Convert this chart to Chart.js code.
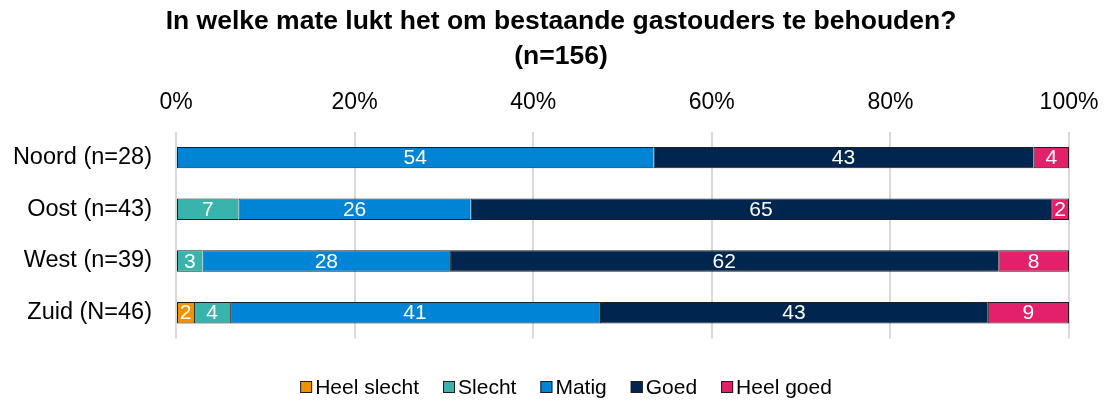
<!DOCTYPE html>
<html lang="nl">
<head>
<meta charset="utf-8">
<title>Gastouders behouden</title>
<script src="https://cdn.jsdelivr.net/npm/chart.js@4.4.1/dist/chart.umd.min.js"></script>
<style>
  html, body { margin: 0; padding: 0; background: #fff; }
  #wrap { position: relative; width: 1107px; height: 401px; }
</style>
</head>
<body>
<div id="wrap"><canvas id="chart"></canvas></div>
<script>
/* ── Data (percentages per regio, as labelled) ─────────────── */
const regions    = ['Noord (n=28)', 'Oost (n=43)', 'West (n=39)', 'Zuid (N=46)'];
const answers    = ['Heel slecht', 'Slecht', 'Matig', 'Goed', 'Heel goed'];
const heelSlecht = [0, 0, 0, 2];
const slecht     = [0, 7, 3, 4];
const matig      = [54, 26, 28, 41];
const goed       = [43, 65, 62, 43];
const heelGoed   = [4, 2, 8, 9];
const xTicks     = [0, 20, 40, 60, 80, 100];
const titleLines = ['In welke mate lukt het om bestaande gastouders te behouden?', '(n=156)'];

const series = [heelSlecht, slecht, matig, goed, heelGoed];
const colors = ['#F39200', '#38B4AC', '#0084D5', '#00264F', '#E5206A'];
const FONT   = "'Liberation Sans', Arial, Helvetica, sans-serif";

/* rounded labels don't always add up to 100, so scale each row */
const totals = regions.map((_, i) => series.reduce((s, arr) => s + arr[i], 0));

const datasets = series.map((arr, d) => ({
  label: answers[d],
  data: arr.map((v, i) => (v ? v / totals[i] * 100 : null)),
  backgroundColor: colors[d],
  borderColor: '#1e1e1e',
  borderWidth: { top: 1, bottom: 1, left: 1, right: d === series.length - 1 ? 1 : 0 },
  borderSkipped: false,
  categoryPercentage: 0.415,
  barPercentage: 1
}));

/* ── Two-line bold title, centred a bit right of the canvas middle ── */
const topTitle = {
  id: 'topTitle',
  afterDraw(chart) {
    const ctx = chart.ctx;
    ctx.save();
    ctx.font = `bold 26.5px ${FONT}`;
    ctx.fillStyle = '#000000';
    ctx.textAlign = 'center';
    ctx.textBaseline = 'middle';
    titleLines.forEach((line, i) => ctx.fillText(line, 561, 22 + i * 34.5));
    ctx.restore();
  }
};

/* ── White value labels in the middle of each segment ──────── */
const valueLabels = {
  id: 'valueLabels',
  afterDatasetsDraw(chart) {
    const ctx = chart.ctx;
    ctx.save();
    ctx.font = `21px ${FONT}`;
    ctx.fillStyle = '#ffffff';
    ctx.textAlign = 'center';
    ctx.textBaseline = 'middle';
    series.forEach((arr, d) => {
      chart.getDatasetMeta(d).data.forEach((bar, i) => {
        if (!arr[i]) return;
        ctx.fillText(String(arr[i]), (bar.x + bar.base) / 2, bar.y + 1);
      });
    });
    ctx.restore();
  }
};

/* ── Legend drawn below the plot (tight box/text spacing) ──── */
const bottomLegend = {
  id: 'bottomLegend',
  afterDraw(chart) {
    const ctx = chart.ctx;
    const box = 12, gap = 3, spacing = 24, cy = 387;
    ctx.save();
    ctx.font = `21px ${FONT}`;
    ctx.textBaseline = 'middle';
    ctx.textAlign = 'left';
    const widths = answers.map(t => ctx.measureText(t).width);
    const total = widths.reduce((s, w) => s + box + gap + w, 0) + spacing * (answers.length - 1);
    let x = 566 - total / 2;
    answers.forEach((t, d) => {
      ctx.fillStyle = colors[d];
      ctx.fillRect(x, cy - box / 2, box, box);
      ctx.strokeStyle = '#1e1e1e';
      ctx.lineWidth = 1;
      ctx.strokeRect(x + 0.5, cy - box / 2 + 0.5, box - 1, box - 1);
      ctx.fillStyle = '#000000';
      ctx.fillText(t, x + box + gap, cy + 1);
      x += box + gap + widths[d] + spacing;
    });
    ctx.restore();
  }
};

new Chart(document.getElementById('chart'), {
  type: 'bar',
  data: { labels: regions, datasets },
  plugins: [topTitle, valueLabels, bottomLegend],
  options: {
    indexAxis: 'y',
    responsive: true,
    maintainAspectRatio: false,
    animation: false,
    layout: { padding: { left: 0, right: 0, top: 74.2, bottom: 62.5 } },
    plugins: {
      legend: { display: false },
      tooltip: { enabled: false },
      title: { display: false }
    },
    scales: {
      x: {
        position: 'top',
        stacked: true,
        min: xTicks[0],
        max: xTicks[xTicks.length - 1],
        afterBuildTicks(scale) { scale.ticks = xTicks.map(v => ({ value: v })); },
        // room for the "100%" label past the right edge of the bars
        afterFit(scale) { scale.paddingLeft = 0; scale.paddingRight = 38; },
        ticks: {
          callback: v => v + '%',
          color: '#000000',
          padding: 15,
          maxRotation: 0,
          font: { family: FONT, size: 23 }
        },
        grid: { color: '#d9d9d9', lineWidth: 2, drawTicks: false },
        border: { display: false }
      },
      y: {
        stacked: true,
        afterFit(scale) { scale.width = 176; },
        ticks: {
          color: '#000000',
          padding: 24,
          font: { family: FONT, size: 23.5 }
        },
        grid: { display: false, drawTicks: false },
        border: { display: false }
      }
    }
  }
});
</script>
</body>
</html>
